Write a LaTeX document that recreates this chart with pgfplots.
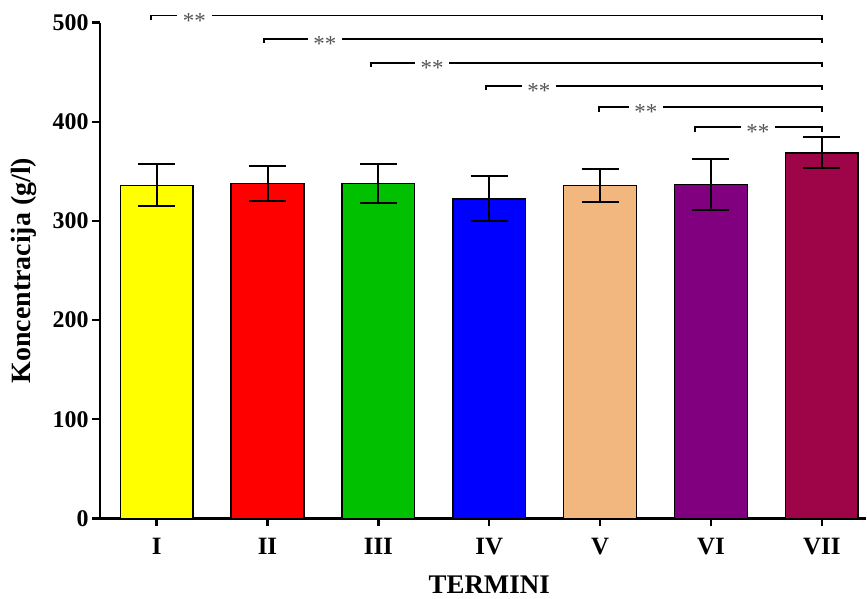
\documentclass[border=0pt]{standalone}
\usepackage{fontspec}
\setmainfont{Liberation Serif}
\usepackage{pgfplots}
\pgfplotsset{compat=1.18}
\definecolor{cI}{HTML}{FFFF00}
\definecolor{cII}{HTML}{FF0000}
\definecolor{cIII}{HTML}{00C000}
\definecolor{cIV}{HTML}{0000FF}
\definecolor{cV}{HTML}{F1B77E}
\definecolor{cVI}{HTML}{800080}
\definecolor{cVII}{HTML}{9E0549}
\definecolor{stargray}{HTML}{555555}
\tikzset{sigstar/.style={text=stargray, font=\fontsize{23}{23}\selectfont, yshift=-5bp}}
\begin{document}
\begin{tikzpicture}
\begin{axis}[
  scale only axis, width=766bp, height=495.6bp,
  xmin=-0.511, xmax=6.399, ymin=0, ymax=500,
  axis x line*=bottom, axis y line*=left,
  axis line style={line width=2.8bp, -},
  xtick={0,...,6}, xticklabels={I,II,III,IV,V,VI,VII},
  ytick={0,100,...,500},
  tick align=outside,
  major tick length=8bp,
  tick style={line width=2.5bp, black},
  /pgf/number format/assume math mode=true,
  yticklabel style={font=\fontsize{24}{24}\selectfont\bfseries},
  xticklabel style={font=\fontsize{25}{25}\selectfont\bfseries, yshift=-8.5bp},
  ylabel={Koncentracija (g/l)},
  ylabel style={font=\fontsize{28}{28}\selectfont\bfseries, at={(axis description cs:-0.0992,0.5)}, anchor=center},
  xlabel={TERMINI},
  xlabel style={font=\fontsize{27}{27}\selectfont\bfseries, at={(axis cs:3,-67)}, anchor=center},
  clip=false,
  mybar/.style={ybar, bar width=0.656, bar shift=0, draw=black, line width=1.3bp,
    error bars/y dir=both, error bars/y explicit,
    error bars/error bar style={line width=2bp, black},
    error bars/error mark options={rotate=90, line width=2bp, mark size=18.5bp, black}},
  brk/.style={black, line width=1.8bp, mark=none},
]
\addplot[mybar, fill=cI]   coordinates {(0,335.6) += (0,22.2) -= (0,20.8)};
\addplot[mybar, fill=cII]  coordinates {(1,337.6) += (0,18.2) -= (0,17.4)};
\addplot[mybar, fill=cIII] coordinates {(2,337.6) += (0,20.2) -= (0,19.4)};
\addplot[mybar, fill=cIV]  coordinates {(3,322.2) += (0,23.5) -= (0,21.9)};
\addplot[mybar, fill=cV]   coordinates {(4,335.6) += (0,16.9) -= (0,16.1)};
\addplot[mybar, fill=cVI]  coordinates {(5,337.0) += (0,25.6) -= (0,25.6)};
\addplot[mybar, fill=cVII] coordinates {(6,368.6) += (0,16.4) -= (0,15.1)};
% significance brackets
\addplot[brk] coordinates {(-0.05,502.8) (-0.05,507.2) (0.183,507.2)};
\addplot[brk] coordinates {(0.499,507.2) (6,507.2) (6,502.8)};
\addplot[brk] coordinates {(0.965,479.5) (0.965,483.9) (1.365,483.9)};
\addplot[brk] coordinates {(1.672,483.9) (6,483.9) (6,479.5)};
\addplot[brk] coordinates {(1.933,455.3) (1.933,459.7) (2.330,459.7)};
\addplot[brk] coordinates {(2.637,459.7) (6,459.7) (6,455.3)};
\addplot[brk] coordinates {(2.968,431.8) (2.968,436.2) (3.293,436.2)};
\addplot[brk] coordinates {(3.603,436.2) (6,436.2) (6,431.8)};
\addplot[brk] coordinates {(3.99,410.3) (3.99,414.7) (4.258,414.7)};
\addplot[brk] coordinates {(4.568,414.7) (6,414.7) (6,410.3)};
\addplot[brk] coordinates {(4.859,390.1) (4.859,394.5) (5.268,394.5)};
\addplot[brk] coordinates {(5.578,394.5) (6,394.5) (6,390.1)};
\node[sigstar] at (axis cs:0.341,507.2) {**};
\node[sigstar] at (axis cs:1.518,483.9) {**};
\node[sigstar] at (axis cs:2.484,459.7) {**};
\node[sigstar] at (axis cs:3.448,436.2) {**};
\node[sigstar] at (axis cs:4.413,414.7) {**};
\node[sigstar] at (axis cs:5.423,394.5) {**};
\end{axis}
\pgfresetboundingbox
\path ([xshift=-100bp,yshift=-80.7bp]current axis.south west) rectangle ([xshift=1bp,yshift=22.7bp]current axis.north east);
\end{tikzpicture}
\end{document}
